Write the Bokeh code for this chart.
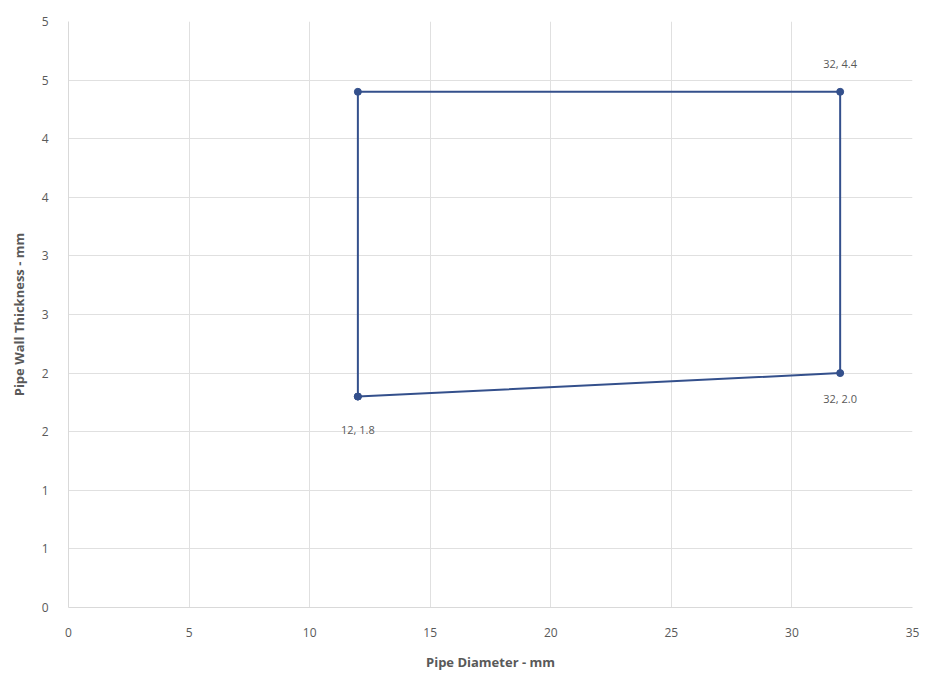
from bokeh.plotting import figure
from bokeh.models import FixedTicker, ColumnDataSource, Range1d
from bokeh.embed import file_html
from bokeh.resources import INLINE
from bokeh.core.properties import value

# data
diameter = [12, 12, 32, 32, 12]
thickness = [1.8, 4.4, 4.4, 2.0, 1.8]
label_x = [32, 32, 12]
label_y = [4.4, 2.0, 1.8]
label_text = ["32, 4.4", "32, 2.0", "12, 1.8"]
label_dy = [-28, 25, 33]
x_ticks = [0, 5, 10, 15, 20, 25, 30, 35]
y_ticks = [0, 0.5, 1.0, 1.5, 2.0, 2.5, 3.0, 3.5, 4.0, 4.5, 5.0]
y_tick_labels = ["0", "1", "1", "2", "2", "3", "3", "4", "4", "5", "5"]

FONT = "Open Sans"
GRAY = "#595959"
LINE = "#34508C"

p = figure(width=920, height=674, output_backend="svg", toolbar_location=None,
           x_range=Range1d(0, 35), y_range=Range1d(0, 5),
           min_border_left=68, min_border_right=8, min_border_top=21, min_border_bottom=67)
p.outline_line_color = None
p.background_fill_color = "white"

p.xaxis.ticker = FixedTicker(ticks=x_ticks)
p.yaxis.ticker = FixedTicker(ticks=y_ticks)
p.yaxis.major_label_overrides = {t: l for t, l in zip(y_ticks, y_tick_labels)}

for ax in (p.xaxis, p.yaxis):
    ax.axis_line_color = "#d9d9d9"
    ax.major_tick_line_color = None
    ax.minor_tick_line_color = None
    ax.major_label_text_font = FONT
    ax.major_label_text_font_size = "12px"
    ax.major_label_text_color = GRAY
    ax.axis_label_text_font = FONT
    ax.axis_label_text_font_size = "13px"
    ax.axis_label_text_font_style = "bold"
    ax.axis_label_text_color = GRAY

p.xaxis.axis_label = "Pipe Diameter - mm"
p.yaxis.axis_label = "Pipe Wall Thickness - mm"
p.xaxis.major_label_standoff = 14
p.yaxis.major_label_standoff = 14
p.xaxis.axis_label_standoff = 13
p.yaxis.axis_label_standoff = 11

p.xgrid.grid_line_color = "#e0e0e0"
p.ygrid.grid_line_color = "#e0e0e0"

src = ColumnDataSource(dict(x=diameter, y=thickness))
p.line("x", "y", source=src, line_color=LINE, line_width=2)
p.scatter("x", "y", source=src, size=7, fill_color=LINE, line_color=LINE)

lab = ColumnDataSource(dict(x=label_x, y=label_y, t=label_text, dy=label_dy))
p.text("x", "y", text="t", source=lab, y_offset="dy", text_font=value(FONT),
       text_font_size="11px", text_color=GRAY, text_align="center", text_baseline="middle")

open("out.html", "w").write(file_html(p, INLINE))
